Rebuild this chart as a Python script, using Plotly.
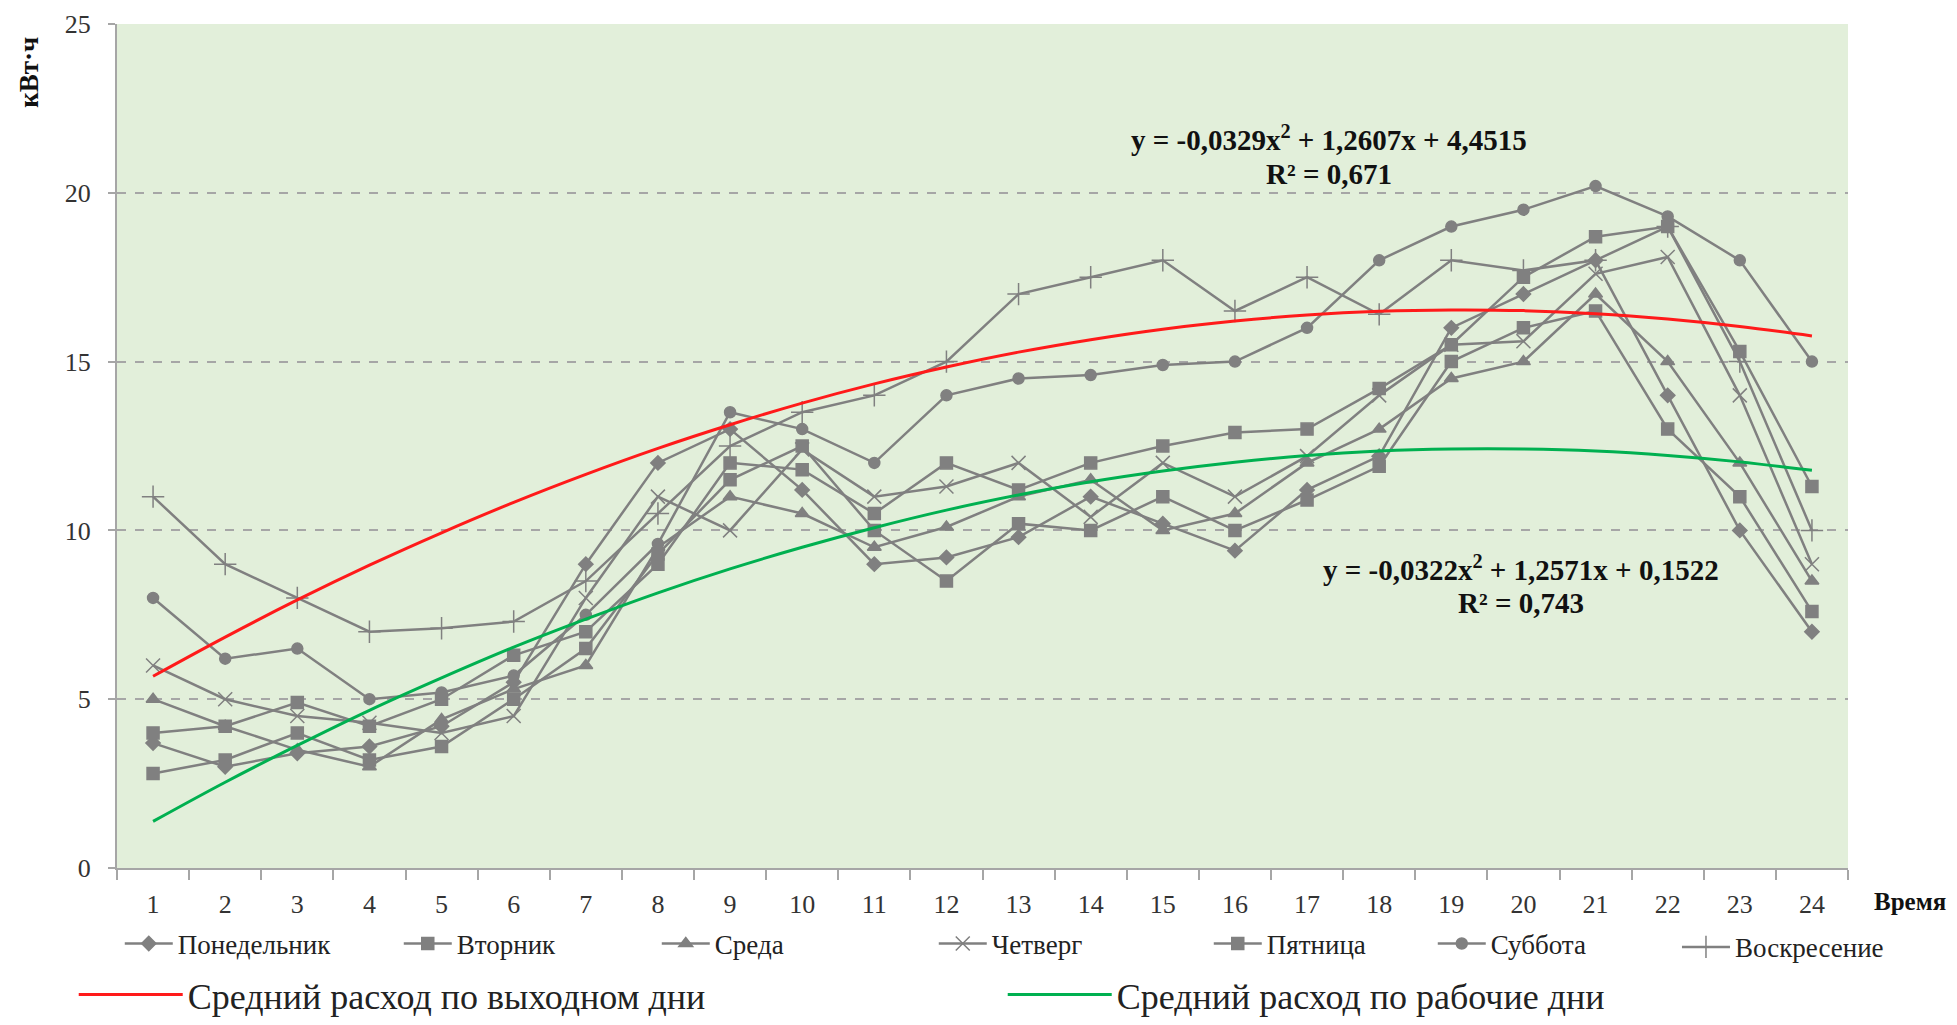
import plotly.graph_objects as go

hours = list(range(1, 25))
hour_labels = [str(h) for h in hours]

# кВт·ч по часам
ponedelnik = [3.7, 3.0, 3.4, 3.6, 4.2, 5.5, 9.0, 12.0, 13.0, 11.2, 9.0, 9.2,
              9.8, 11.0, 10.2, 9.4, 11.2, 12.2, 16.0, 17.0, 18.0, 14.0, 10.0, 7.0]
vtornik = [4.0, 4.2, 4.9, 4.2, 5.0, 6.3, 7.0, 9.0, 12.0, 11.8, 10.5, 12.0,
           11.2, 12.0, 12.5, 12.9, 13.0, 14.2, 15.5, 17.5, 18.7, 19.0, 15.3, 11.3]
sreda = [5.0, 4.2, 3.5, 3.0, 4.4, 5.3, 6.0, 9.5, 11.0, 10.5, 9.5, 10.1,
         11.0, 11.5, 10.0, 10.5, 12.0, 13.0, 14.5, 15.0, 17.0, 15.0, 12.0, 8.5]
chetverg = [6.0, 5.0, 4.5, 4.3, 4.0, 4.5, 8.0, 11.0, 10.0, 12.4, 11.0, 11.3,
            12.0, 10.4, 12.0, 11.0, 12.2, 14.0, 15.5, 15.6, 17.6, 18.1, 14.0, 9.0]
pyatnica = [2.8, 3.2, 4.0, 3.2, 3.6, 5.0, 6.5, 9.3, 11.5, 12.5, 10.0, 8.5,
            10.2, 10.0, 11.0, 10.0, 10.9, 11.9, 15.0, 16.0, 16.5, 13.0, 11.0, 7.6]
subbota = [8.0, 6.2, 6.5, 5.0, 5.2, 5.7, 7.5, 9.6, 13.5, 13.0, 12.0, 14.0,
           14.5, 14.6, 14.9, 15.0, 16.0, 18.0, 19.0, 19.5, 20.2, 19.3, 18.0, 15.0]
voskresenie = [11.0, 9.0, 8.0, 7.0, 7.1, 7.3, 8.5, 10.5, 12.5, 13.5, 14.0, 15.0,
               17.0, 17.5, 18.0, 16.5, 17.5, 16.4, 18.0, 17.7, 18.0, 19.0, 15.0, 10.0]

trend_vyhodnye = [5.68, 6.84, 7.94, 8.97, 9.93, 10.83, 11.66, 12.43, 13.13, 13.77, 14.34, 14.84,
                  15.28, 15.65, 15.96, 16.20, 16.38, 16.49, 16.53, 16.51, 16.42, 16.26, 16.04, 15.76]
trend_rabochie = [1.38, 2.54, 3.63, 4.67, 5.63, 6.54, 7.37, 8.15, 8.86, 9.50, 10.08, 10.60,
                  11.05, 11.44, 11.76, 12.02, 12.22, 12.35, 12.41, 12.41, 12.35, 12.22, 12.03, 11.78]

day_names = ['Понедельник', 'Вторник', 'Среда', 'Четверг', 'Пятница', 'Суббота', 'Воскресение']
day_values = [ponedelnik, vtornik, sreda, chetverg, pyatnica, subbota, voskresenie]

symbols = ['diamond', 'square', 'triangle-up', 'x-thin-open', 'square', 'circle', 'cross-thin-open']
msizes = [11, 12, 12, 14, 12, 11, 16]
lwidths = [216, 195, 214, 212, 161, 150, None]
legend_ids = ['legend'] * 6 + ['legend3']

serif = 'Liberation Serif'
gray = '#808080'

fig = go.Figure()

for name, vals, sym, ms, lw, lg in zip(day_names, day_values, symbols, msizes, lwidths, legend_ids):
    fig.add_trace(go.Scatter(
        x=hours, y=vals, name=name, mode='lines+markers',
        line=dict(color=gray, width=2.5),
        marker=dict(symbol=sym, size=ms, color=gray, line=dict(color=gray, width=1.5)),
        legend=lg, legendwidth=lw))

fig.add_trace(go.Scatter(
    x=hours, y=trend_vyhodnye, name='Средний расход по выходном дни', mode='lines',
    line=dict(color='#ff1a1a', width=3, shape='spline'), legend='legend2', legendwidth=810))
fig.add_trace(go.Scatter(
    x=hours, y=trend_rabochie, name='Средний расход по рабочие дни', mode='lines',
    line=dict(color='#00b050', width=3, shape='spline'), legend='legend2'))

leg_font = dict(family=serif, size=27, color='#222222')

# страница сдвинута на 8px (отступ body), поэтому размеры меньше на 16
fig.update_layout(
    width=1941, height=1009,
    margin=dict(l=109, r=101, t=16, b=149, autoexpand=False),
    paper_bgcolor='white', plot_bgcolor='#e2efda',
    font=dict(family=serif, size=20, color='#333333'),
    legend=dict(orientation='h', x=0.0016, y=-0.090, xanchor='left', yanchor='middle',
                itemwidth=48, font=leg_font, bgcolor='rgba(0,0,0,0)', traceorder='normal'),
    legend3=dict(orientation='h', x=0.9012, y=-0.094, xanchor='left', yanchor='middle',
                 itemwidth=48, font=leg_font, bgcolor='rgba(0,0,0,0)'),
    legend2=dict(orientation='h', x=-0.025, y=-0.150, xanchor='left', yanchor='middle',
                 itemwidth=104, font=dict(family=serif, size=36, color='#222222'),
                 bgcolor='rgba(0,0,0,0)'),
    showlegend=True,
)

fig.update_xaxes(
    range=[0.5, 24.5], tickmode='array', tickvals=hours, ticktext=hour_labels,
    ticks='', showgrid=False, zeroline=False, automargin=False,
    showline=True, linecolor='#a6a6a6', linewidth=2,
    ticklabelstandoff=12, tickfont=dict(family=serif, size=26, color='#333333'),
    minor=dict(tick0=0.5, dtick=1, ticks='outside', ticklen=10, tickcolor='#a6a6a6',
               tickwidth=1.5, showgrid=False))

fig.update_yaxes(
    range=[0, 25], tickmode='array', tickvals=[0, 5, 10, 15, 20, 25],
    showgrid=True, gridcolor='#a6a6a6', griddash='dash', gridwidth=1.5,
    zeroline=False, showline=True, linecolor='#a6a6a6', linewidth=2, automargin=False,
    ticks='outside', ticklen=7, tickcolor='#a6a6a6', tickwidth=1.5,
    ticklabelstandoff=12, tickfont=dict(family=serif, size=26, color='#333333'))

ann = [
    dict(x=17.30, y=21.63, text='<b>y = -0,0329x<sup>2</sup> + 1,2607x + 4,4515</b>'),
    dict(x=17.30, y=20.56, text='<b>R² = 0,671</b>'),
    dict(x=19.96, y=8.9, text='<b>y = -0,0322x<sup>2</sup> + 1,2571x + 0,1522</b>'),
    dict(x=19.96, y=7.85, text='<b>R² = 0,743</b>'),
]
for a in ann:
    fig.add_annotation(xref='x', yref='y', showarrow=False, xanchor='center', yanchor='middle',
                       font=dict(family=serif, size=29, color='#111111'), **a)

fig.add_annotation(xref='paper', yref='paper', x=1.058, y=-0.040, text='<b>Время</b>',
                   xanchor='right', yanchor='middle',
                   showarrow=False, font=dict(family=serif, size=25, color='#111111'))
fig.add_annotation(xref='paper', yref='paper', x=-0.051, y=0.943, text='<b>кВт·ч</b>',
                   xanchor='center', yanchor='middle', textangle=-90,
                   showarrow=False, font=dict(family=serif, size=27, color='#111111'))

fig.write_html('out.html')
